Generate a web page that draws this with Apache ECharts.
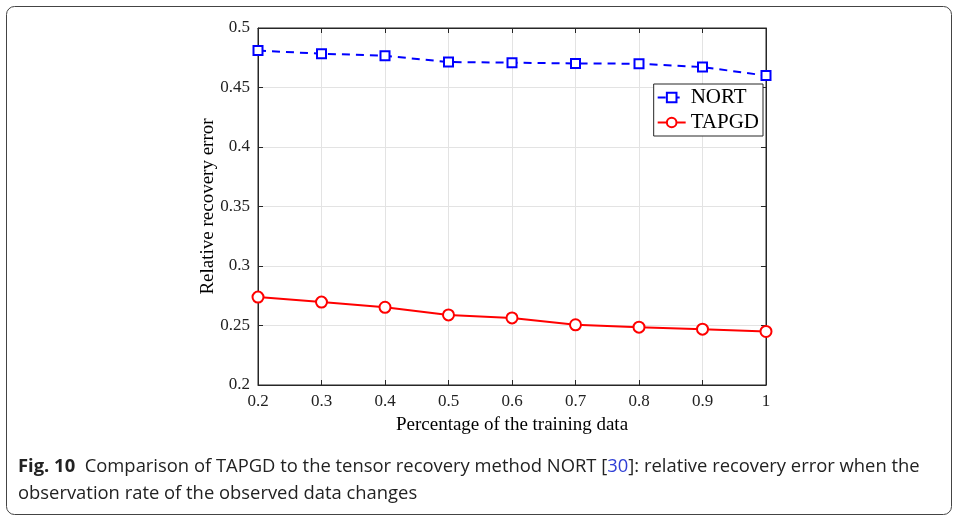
<!DOCTYPE html>
<html>
<head>
<meta charset="utf-8">
<script src="https://cdn.jsdelivr.net/npm/echarts@6/dist/echarts.min.js"></script>
<style>
  html, body { margin: 0; padding: 0; background: #fff; }
  #chart { width: 954px; height: 517px; }
</style>
</head>
<body>
<div id="chart"></div>
<script>
// x: share of training data
const xs = [0.2, 0.3, 0.4, 0.5, 0.6, 0.7, 0.8, 0.9, 1];
const nort = [0.481, 0.4784, 0.4767, 0.4714, 0.4709, 0.4702, 0.4700, 0.4672, 0.4600];
const tapgd = [0.2739, 0.2697, 0.2653, 0.2589, 0.2564, 0.2506, 0.2486, 0.2469, 0.2450];

const serif = 'Liberation Serif, Times New Roman, serif';
const axisCol = '#262626';

let tick = { show: true, inside: true, length: 5, lineStyle: { color: axisCol } };

let chart = echarts.init(document.getElementById('chart'));
chart.setOption({
    animation: false,
    grid: { left: 258, right: 188, top: 28, bottom: 132, show: true, borderColor: axisCol, borderWidth: 1 },
    legend: {
        right: 191, top: 84,
        orient: 'vertical',
        itemWidth: 28, itemHeight: 12, itemGap: 4,
        padding: [3, 4, 3, 3],
        borderColor: axisCol, borderWidth: 1,
        backgroundColor: '#fff',
        textStyle: { fontFamily: serif, fontSize: 21, color: '#000' },
        data: ['NORT', 'TAPGD']
    },
    xAxis: [
        {
            type: 'value',
            min: 0.2, max: 1, interval: 0.1,
            name: 'Percentage of the training data',
            nameLocation: 'middle', nameGap: 31,
            nameTextStyle: { fontFamily: serif, fontSize: 19, color: '#000' },
            axisLine: { lineStyle: { color: axisCol } },
            axisTick: tick,
            axisLabel: {
                fontFamily: serif, fontSize: 17, color: '#222', margin: 8,
                formatter: (v) => String(Math.round(v * 10) / 10)
            },
            splitLine: { show: true, lineStyle: { color: '#e3e3e3' } }
        },
        {
            type: 'value', position: 'top',
            min: 0.2, max: 1, interval: 0.1,
            axisLine: { lineStyle: { color: axisCol } },
            axisTick: tick,
            axisLabel: { show: false },
            splitLine: { show: false }
        }
    ],
    yAxis: [
        {
            type: 'value',
            min: 0.2, max: 0.5, interval: 0.05,
            name: 'Relative recovery error',
            nameLocation: 'middle', nameGap: 40,
            nameMoveOverlap: false,
            nameTextStyle: { fontFamily: serif, fontSize: 19, color: '#000' },
            axisLine: { show: true, lineStyle: { color: axisCol } },
            axisTick: tick,
            axisLabel: {
                fontFamily: serif, fontSize: 17, color: '#222', margin: 8,
                formatter: (v) => String(Math.round(v * 100) / 100)
            },
            splitLine: { show: true, lineStyle: { color: '#e3e3e3' } }
        },
        {
            type: 'value', position: 'right',
            min: 0.2, max: 0.5, interval: 0.05,
            axisLine: { show: true, lineStyle: { color: axisCol } },
            axisTick: tick,
            axisLabel: { show: false },
            splitLine: { show: false }
        }
    ],
    series: [
        {
            name: 'NORT',
            type: 'line',
            data: xs.map((x, i) => [x, nort[i]]),
            symbol: 'emptyRect', symbolSize: 9,
            color: '#0000ff',
            lineStyle: { width: 2, type: [8, 6] },
            itemStyle: { borderWidth: 2 }
        },
        {
            name: 'TAPGD',
            type: 'line',
            data: xs.map((x, i) => [x, tapgd[i]]),
            symbol: 'emptyCircle', symbolSize: 11,
            color: '#ff0000',
            lineStyle: { width: 2 },
            itemStyle: { borderWidth: 2 }
        }
    ],
    graphic: [
        {
            type: 'rect', left: 4, top: 4, silent: true,
            shape: { width: 945, height: 508, r: 8 },
            style: { fill: 'none', stroke: '#444', lineWidth: 1 }
        },
        {
            type: 'text', left: 18, top: 453,
            style: {
                text: '{b|Fig. 10}  Comparison of TAPGD to the tensor recovery method NORT [{l|30}]: relative recovery error when the\nobservation rate of the observed data changes',
                fontFamily: 'Open Sans, sans-serif', fontSize: 18.4, lineHeight: 27, fill: '#222',
                rich: {
                    b: { fontWeight: 'bold', fontFamily: 'Open Sans, sans-serif', fontSize: 18.4, fill: '#222' },
                    l: { fontFamily: 'Open Sans, sans-serif', fontSize: 18.4, fill: '#2f3fd6' }
                }
            }
        }
    ]
});
</script>
</body>
</html>
